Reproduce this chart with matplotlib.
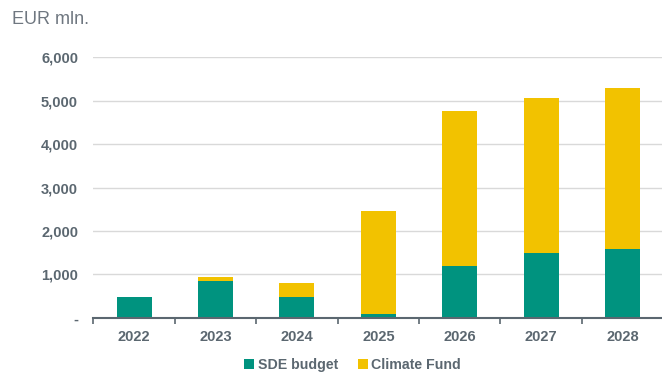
import matplotlib
matplotlib.use("Agg")
import matplotlib.pyplot as plt
import numpy as np
from matplotlib.ticker import FuncFormatter, FixedLocator

years = ["2022", "2023", "2024", "2025", "2026", "2027", "2028"]
sde_budget = [490, 850, 480, 90, 1195, 1490, 1595]
climate_fund = [0, 85, 330, 2375, 3575, 3580, 3700]

teal = "#00937F"
yellow = "#F2C200"
text_gray = "#5B6770"

plt.rcParams["font.family"] = ["Liberation Sans", "DejaVu Sans"]

fig = plt.figure(figsize=(6.62, 3.73), dpi=100)
ax = fig.add_axes([0.141, 0.1475, 0.861, 0.6995])

x = np.arange(len(years))
w = 0.43
ax.bar(x, sde_budget, width=w, color=teal, label="SDE budget", zorder=3)
ax.bar(x, climate_fund, width=w, bottom=sde_budget, color=yellow,
       label="Climate Fund", zorder=3)

ax.set_xlim(-0.5, len(years) - 0.5)
ax.set_ylim(0, 6000)
ax.set_yticks(np.arange(0, 6001, 1000))
ax.yaxis.set_major_formatter(FuncFormatter(lambda v, p: "-" if v == 0 else f"{int(v):,}"))
ax.grid(axis="y", color="#D9D9D9", linewidth=1.0, zorder=0)

ax.set_xticks(x)
ax.set_xticklabels(years)
ax.xaxis.set_minor_locator(FixedLocator(np.arange(-0.5, len(years), 1.0)))
ax.tick_params(axis="x", which="major", length=0, pad=9, labelsize=10.5,
               labelcolor=text_gray)
ax.tick_params(axis="x", which="minor", length=4, width=1.2, color=text_gray,
               direction="out")
ax.tick_params(axis="y", length=0, pad=11, labelsize=10.5, labelcolor=text_gray)
for lbl in ax.get_xticklabels() + ax.get_yticklabels():
    lbl.set_fontweight("bold")

for s in ["top", "right", "left"]:
    ax.spines[s].set_visible(False)
ax.spines["bottom"].set_color(text_gray)
ax.spines["bottom"].set_linewidth(1.5)
ax.spines["bottom"].set_zorder(4)

fig.text(0.018, 0.947, "EUR mln.", fontsize=13, color="#6F7780", ha="left", va="center")

leg = fig.legend(loc="center", bbox_to_anchor=(0.533, 0.022), ncol=2, frameon=False,
                 handlelength=0.7, handleheight=0.7, handletextpad=0.25,
                 columnspacing=1.4, prop={"size": 10.2, "weight": "bold"})
for t in leg.get_texts():
    t.set_color(text_gray)

fig.savefig("out.png", dpi=100)
